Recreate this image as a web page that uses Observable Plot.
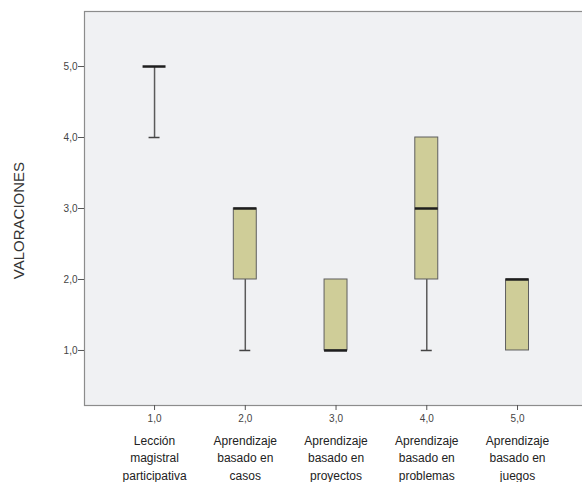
<!DOCTYPE html>
<html><head><meta charset="utf-8">
<script src="https://cdn.jsdelivr.net/npm/d3@7"></script>
<script src="https://cdn.jsdelivr.net/npm/@observablehq/plot@0.6"></script>
<style>body{margin:0;background:#fff} svg{display:block}</style>
</head><body><div id="chart"></div>
<script>
const groups = [1, 2, 3, 4, 5];
const groupNames = [
  "Lección\nmagistral\nparticipativa",
  "Aprendizaje\nbasado en\ncasos",
  "Aprendizaje\nbasado en\nproyectos",
  "Aprendizaje\nbasado en\nproblemas",
  "Aprendizaje\nbasado en\njuegos"
];
const q1 = [5, 2, 1, 2, 1];
const median = [5, 3, 1, 3, 2];
const q3 = [5, 3, 2, 4, 2];
const whiskerLow = [4, 1, 1, 1, 1];
const whiskerHigh = [5, 3, 2, 4, 2];
const yTicks = [1, 2, 3, 4, 5];
const yLabel = "VALORACIONES";

const rows = groups.map((g, i) => ({g, q1: q1[i], med: median[i], q3: q3[i], lo: whiskerLow[i], hi: whiskerHigh[i]}));
const fmt = d => d.toFixed(1).replace(".", ",");
const nameOf = g => groupNames[groups.indexOf(g)];
const lowW = rows.filter(d => d.lo < d.q1);
const highW = rows.filter(d => d.hi > d.q3);

const chart = Plot.plot({
  width: 582,
  height: 482,
  marginLeft: 84,
  marginRight: -1,
  marginTop: 11,
  marginBottom: 77,
  style: {fontFamily: "'Liberation Sans', Arial, sans-serif", background: "#fff"},
  x: {type: "band", domain: groups, paddingInner: 0.747, paddingOuter: 0.623, align: 0.518, round: false},
  y: {domain: [0.225, 5.775]},
  marks: [
    Plot.frame({fill: "#f0f1f3", stroke: "#8c8c8c", strokeWidth: 1.2}),
    Plot.ruleX(lowW, {x: "g", y1: "lo", y2: "q1", stroke: "#5a5a5a", strokeWidth: 1.5}),
    Plot.ruleX(highW, {x: "g", y1: "q3", y2: "hi", stroke: "#5a5a5a", strokeWidth: 1.5}),
    Plot.tickY(lowW, {x: "g", y: "lo", insetLeft: 6, insetRight: 6, stroke: "#444", strokeWidth: 1.5}),
    Plot.tickY(highW, {x: "g", y: "hi", insetLeft: 6, insetRight: 6, stroke: "#444", strokeWidth: 1.5}),
    Plot.barY(rows, {x: "g", y1: "q1", y2: "q3", fill: "#cfcd98", stroke: "#5e5e5e", strokeWidth: 1}),
    Plot.tickY(rows, {x: "g", y: "med", stroke: "#1e1e1e", strokeWidth: 2.5}),
    Plot.axisY({ticks: yTicks, tickFormat: fmt, tickSize: 6, tickPadding: 1, fontSize: 10, label: null, stroke: "#555", color: "#444"}),
    Plot.axisX({tickFormat: fmt, tickSize: 5, tickPadding: 4, fontSize: 10, label: null, stroke: "#555", color: "#444"}),
    Plot.axisX({tickFormat: nameOf, tickSize: 0, tickPadding: 27, fontSize: 12, lineHeight: 1.45, label: null, color: "#222"}),
    Plot.text([yLabel], {frameAnchor: "left", textAnchor: "middle", rotate: -90, dx: -65, dy: 12, fontSize: 15, fill: "#333"})
  ]
});
document.getElementById("chart").appendChild(chart);
</script>
</body></html>
